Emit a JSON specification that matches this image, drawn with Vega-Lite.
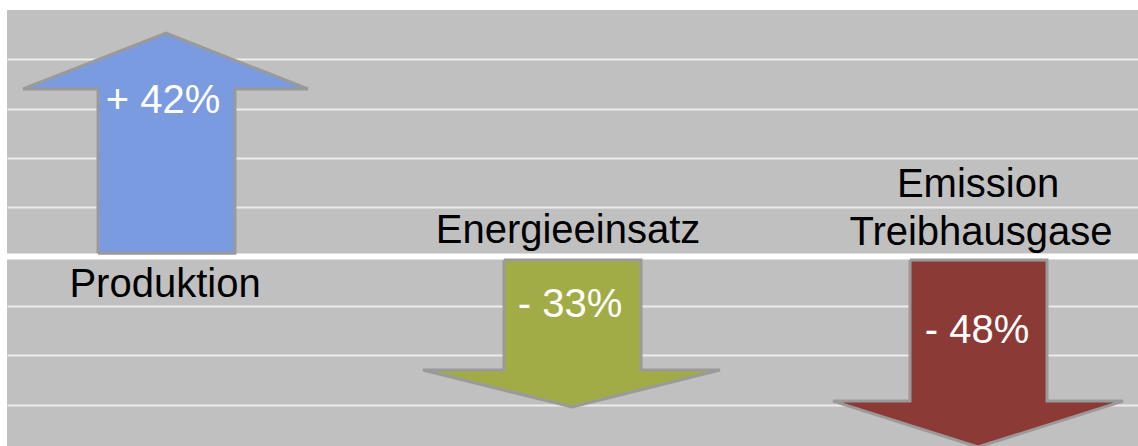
{
  "$schema": "https://vega.github.io/schema/vega-lite/v6.json",
  "width": 1131,
  "height": 436,
  "autosize": "none",
  "padding": {"left": 7, "top": 10, "right": 0, "bottom": 0},
  "background": "#ffffff",
  "view": {"fill": "#c0c0c0", "stroke": null},
  "datasets": {
    "arrows": [
      {"arrow": "Produktion", "i": 0, "x": 91, "y": 0.07},
      {"arrow": "Produktion", "i": 1, "x": 91, "y": 3.40},
      {"arrow": "Produktion", "i": 2, "x": 16, "y": 3.40},
      {"arrow": "Produktion", "i": 3, "x": 159, "y": 4.53},
      {"arrow": "Produktion", "i": 4, "x": 301, "y": 3.40},
      {"arrow": "Produktion", "i": 5, "x": 228, "y": 3.40},
      {"arrow": "Produktion", "i": 6, "x": 228, "y": 0.07},
      {"arrow": "Produktion", "i": 7, "x": 91, "y": 0.07},
      {"arrow": "Energieeinsatz", "i": 0, "x": 497, "y": -0.07},
      {"arrow": "Energieeinsatz", "i": 1, "x": 634, "y": -0.07},
      {"arrow": "Energieeinsatz", "i": 2, "x": 634, "y": -2.30},
      {"arrow": "Energieeinsatz", "i": 3, "x": 713, "y": -2.30},
      {"arrow": "Energieeinsatz", "i": 4, "x": 565, "y": -3.05},
      {"arrow": "Energieeinsatz", "i": 5, "x": 416, "y": -2.30},
      {"arrow": "Energieeinsatz", "i": 6, "x": 497, "y": -2.30},
      {"arrow": "Energieeinsatz", "i": 7, "x": 497, "y": -0.07},
      {"arrow": "Emission", "i": 0, "x": 903, "y": -0.07},
      {"arrow": "Emission", "i": 1, "x": 1040, "y": -0.07},
      {"arrow": "Emission", "i": 2, "x": 1040, "y": -2.93},
      {"arrow": "Emission", "i": 3, "x": 1116, "y": -2.93},
      {"arrow": "Emission", "i": 4, "x": 971, "y": -3.86},
      {"arrow": "Emission", "i": 5, "x": 826, "y": -2.93},
      {"arrow": "Emission", "i": 6, "x": 903, "y": -2.93},
      {"arrow": "Emission", "i": 7, "x": 903, "y": -0.07}
    ],
    "labels": [
      {"text": "Produktion", "x": 158, "y": -0.82, "kind": "name"},
      {"text": "Energieeinsatz", "x": 561, "y": 0.27, "kind": "name"},
      {"text": "Emission", "x": 971, "y": 1.21, "kind": "name"},
      {"text": "Treibhausgase", "x": 974, "y": 0.23, "kind": "name"},
      {"text": "+ 42%", "x": 156, "y": 2.91, "kind": "value"},
      {"text": "- 33%", "x": 563, "y": -1.23, "kind": "value"},
      {"text": "- 48%", "x": 970, "y": -1.75, "kind": "value"}
    ],
    "zero": [{"y": 0}]
  },
  "encoding": {
    "x": {"type": "quantitative", "scale": {"domain": [0, 1131], "nice": false, "zero": false}, "axis": null},
    "y": {"type": "quantitative", "scale": {"domain": [-3.84, 5], "nice": false, "zero": false},
      "axis": {"values": [-3, -2, -1, 1, 2, 3, 4], "grid": true, "gridColor": "#ececec", "gridWidth": 2, "gridOpacity": 1, "labels": false, "ticks": false, "domain": false, "title": null}}
  },
  "layer": [
    {
      "data": {"name": "zero"},
      "mark": {"type": "rule", "color": "#ffffff", "strokeWidth": 6},
      "encoding": {"y": {"field": "y", "type": "quantitative"}, "x": {"datum": 0}, "x2": {"datum": 1131}}
    },
    {
      "data": {"name": "arrows"},
      "mark": {"type": "line", "stroke": "#9a9a9a", "strokeWidth": 3, "strokeJoin": "miter", "clip": true},
      "encoding": {
        "x": {"field": "x", "type": "quantitative"},
        "y": {"field": "y", "type": "quantitative"},
        "order": {"field": "i", "type": "quantitative"},
        "detail": {"field": "arrow"},
        "fill": {"field": "arrow", "type": "nominal", "legend": null,
          "scale": {"domain": ["Produktion", "Energieeinsatz", "Emission"], "range": ["#7b9be0", "#a2ac46", "#8b3a36"]}}
      }
    },
    {
      "data": {"name": "labels"},
      "mark": {"type": "text", "font": "Liberation Sans", "fontSize": 40, "align": "center", "baseline": "alphabetic"},
      "encoding": {
        "x": {"field": "x", "type": "quantitative"},
        "y": {"field": "y", "type": "quantitative"},
        "text": {"field": "text"},
        "color": {"field": "kind", "type": "nominal", "legend": null,
          "scale": {"domain": ["name", "value"], "range": ["#000000", "#ffffff"]}}
      }
    }
  ]
}
